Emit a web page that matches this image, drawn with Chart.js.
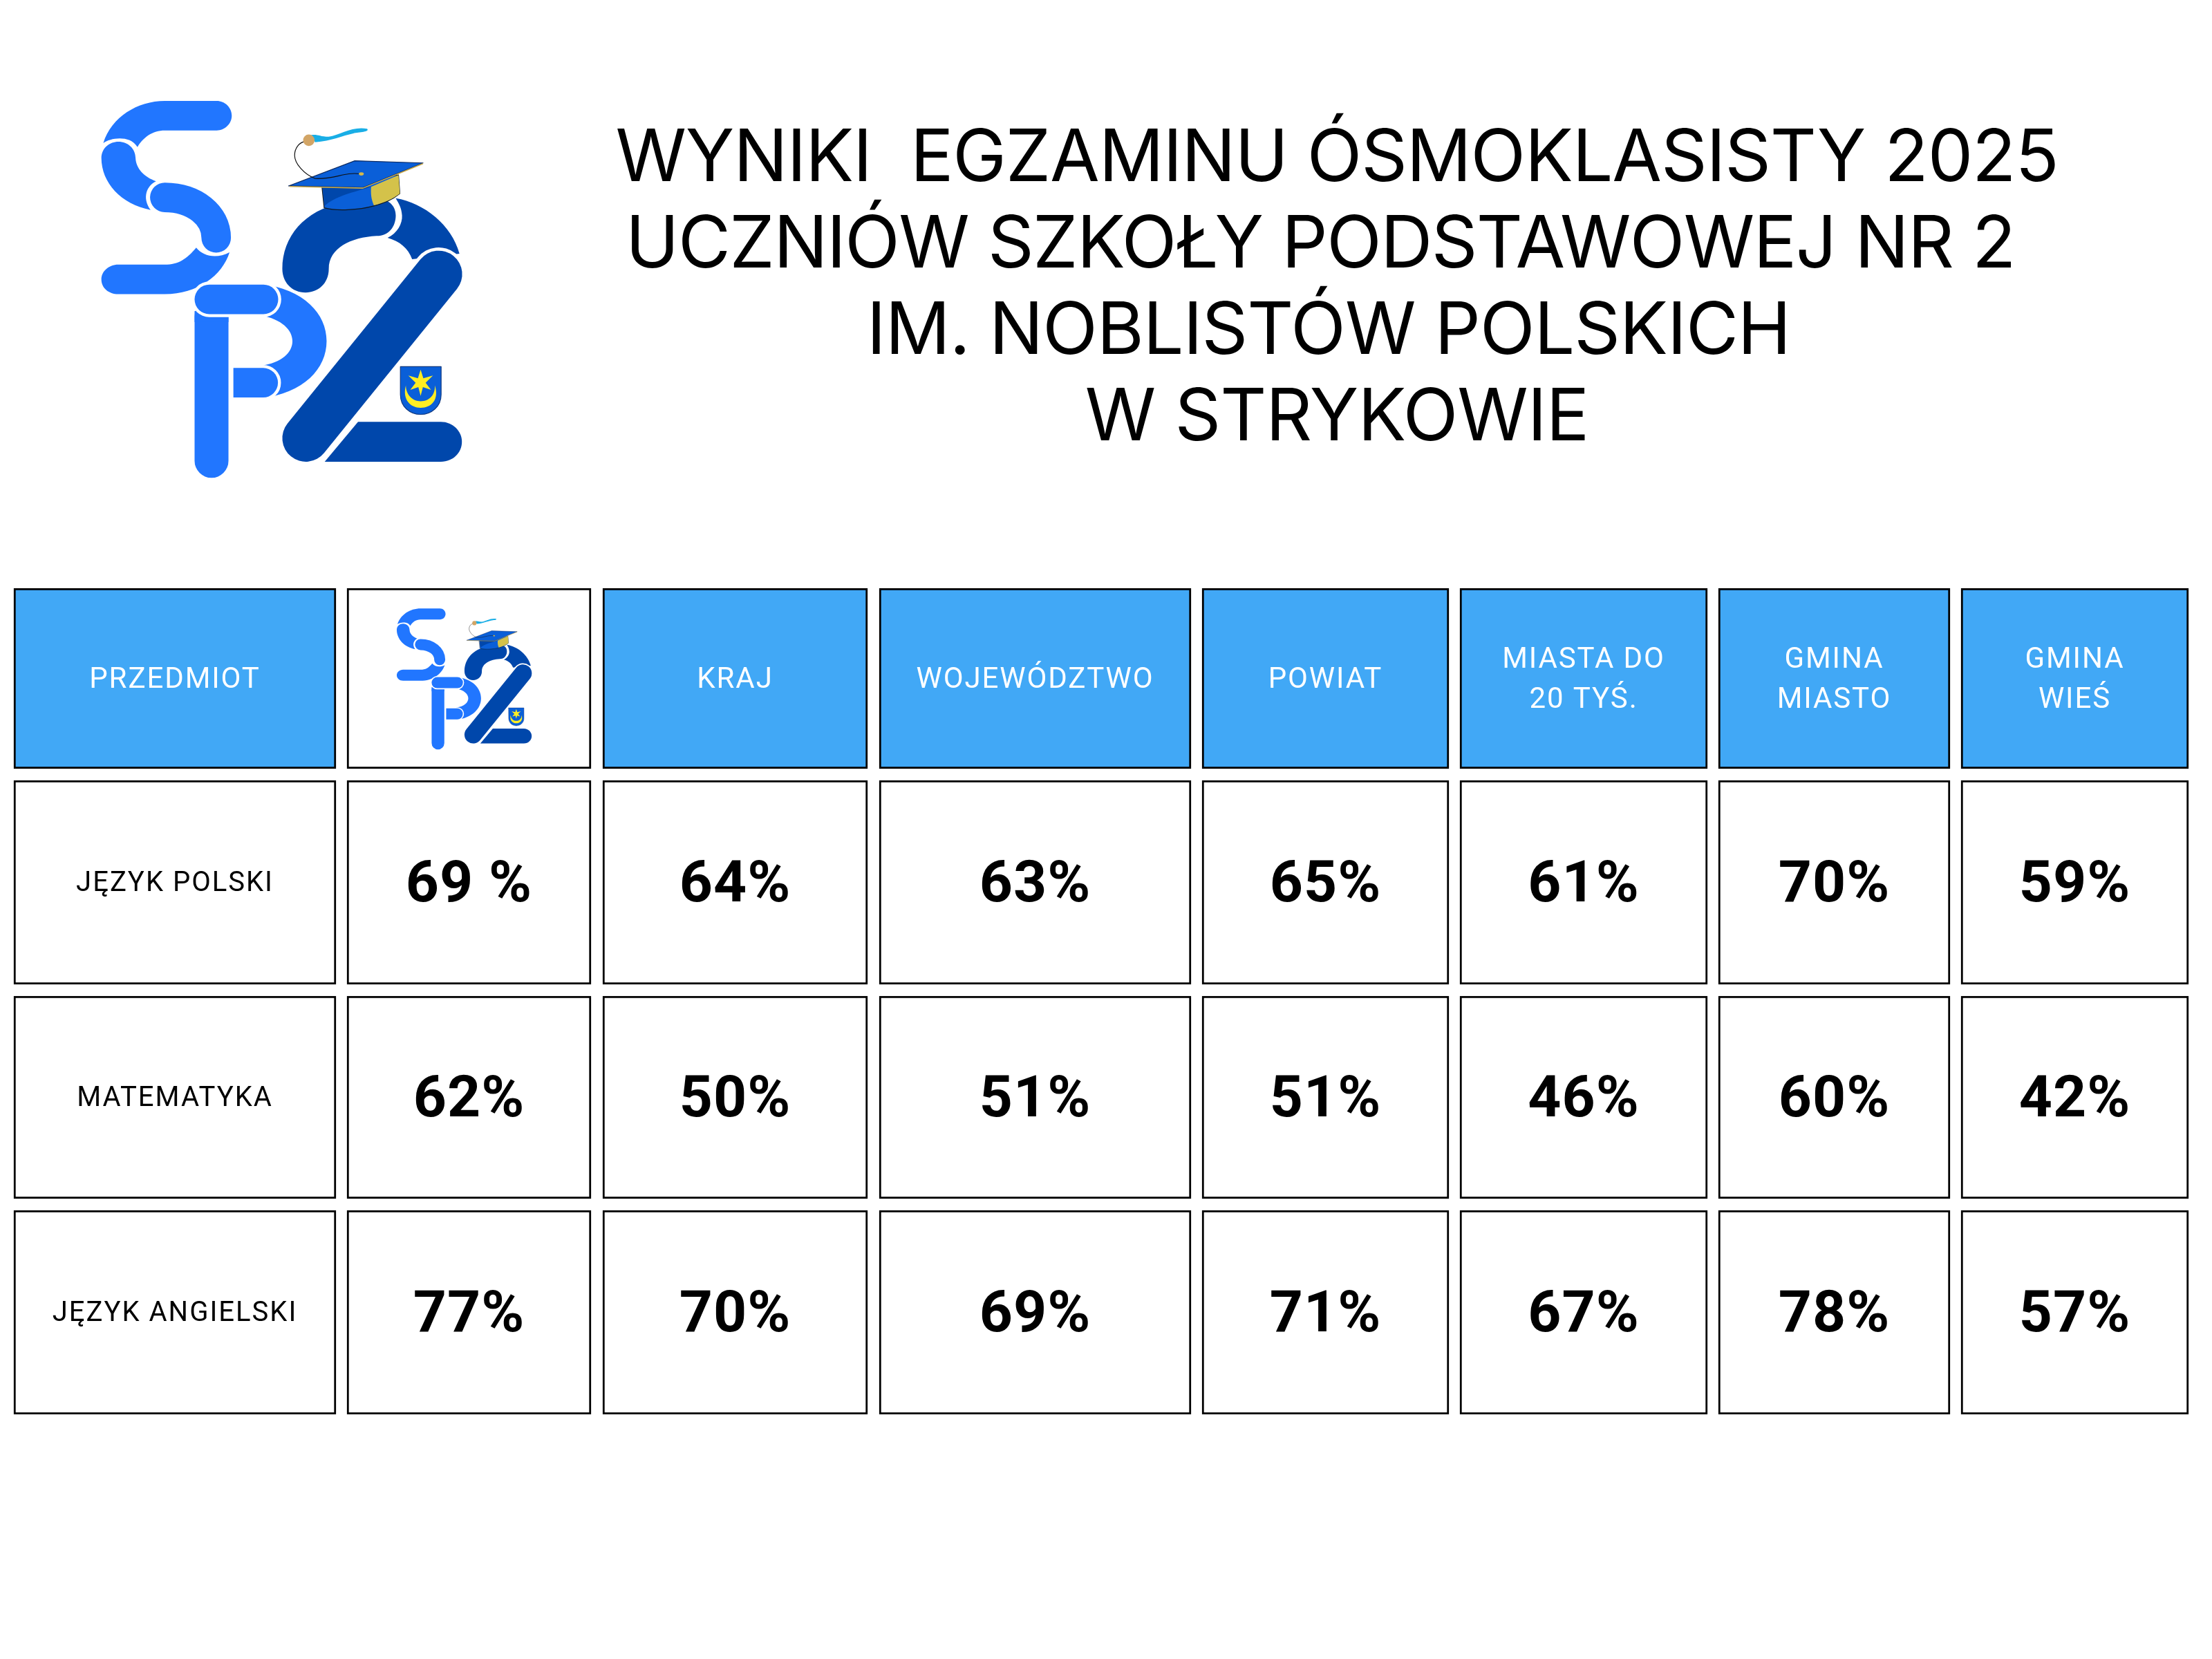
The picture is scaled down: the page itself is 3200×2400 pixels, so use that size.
<!DOCTYPE html>
<html lang="pl">
<head>
<meta charset="utf-8">
<title>Wyniki egzaminu ósmoklasisty 2025</title>
<script src="https://cdn.jsdelivr.net/npm/chart.js@4"></script>
<style>
  html, body { margin: 0; padding: 0; background: #fff; }
  canvas { display: block; }
</style>
</head>
<body>
<canvas id="tabela" width="3200" height="2400"></canvas>
<script>
// Dane
const tytul = [
  'WYNIKI  EGZAMINU ÓSMOKLASISTY 2025',
  'UCZNIÓW SZKOŁY PODSTAWOWEJ NR 2',
  'IM. NOBLISTÓW POLSKICH',
  'W STRYKOWIE'
];
const kolumny = [
  ['PRZEDMIOT'], [], ['KRAJ'], ['WOJEWÓDZTWO'], ['POWIAT'],
  ['MIASTA DO', '20 TYŚ.'], ['GMINA', 'MIASTO'], ['GMINA', 'WIEŚ']
];
const przedmioty = ['JĘZYK POLSKI', 'MATEMATYKA', 'JĘZYK ANGIELSKI'];
const jezykPolski = [69, 64, 63, 65, 61, 70, 59];
const matematyka = [62, 50, 51, 51, 46, 60, 42];
const jezykAngielski = [77, 70, 69, 71, 67, 78, 57];

// Układ tabeli (osobno od danych)
const krawedzieKolumn = [[20, 486], [502, 855], [872, 1255], [1272, 1723], [1739, 2096], [2112, 2470], [2486, 2821], [2837, 3166]];
const krawedzieWierszy = [[851, 1112], [1129, 1424], [1441, 1734], [1751, 2046]];
const NIEBIESKI = '#41a8f6';

const wyniki = [jezykPolski, matematyka, jezykAngielski];

const datasets = kolumny.map((k, c) => ({
  data: krawedzieWierszy.map(w => ({ x: (krawedzieKolumn[c][0] + krawedzieKolumn[c][1]) / 2, y: w })),
  barThickness: krawedzieKolumn[c][1] - krawedzieKolumn[c][0],
  grouped: false,
  backgroundColor: krawedzieWierszy.map((w, r) => (r === 0 && c !== 1) ? NIEBIESKI : '#ffffff'),
  borderColor: '#000000',
  borderWidth: 3,
  borderSkipped: false
}));

function ksztalt(ctx, kolor, rysuj) {
  ctx.beginPath();
  rysuj(ctx);
  ctx.fillStyle = kolor;
  ctx.fill();
}

function kreska(ctx, kolor, szer, rysuj, obwodka) {
  ctx.lineCap = 'round';
  ctx.lineJoin = 'round';
  if (obwodka) {
    ctx.beginPath();
    rysuj(ctx);
    ctx.strokeStyle = '#ffffff';
    ctx.lineWidth = szer + obwodka;
    ctx.stroke();
  }
  ctx.beginPath();
  rysuj(ctx);
  ctx.strokeStyle = kolor;
  ctx.lineWidth = szer;
  ctx.stroke();
}

// Logo szkoły
function logo(ctx, tx, ty, s) {
  const JASNY = '#2176ff', CIEMNY = '#0047ab';
  ctx.save();
  ctx.translate(tx, ty);
  ctx.scale(s, s);

  // S
  ksztalt(ctx, JASNY, c => {
    c.moveTo(350, 91); c.lineTo(540, 91); c.bezierCurveTo(570, 91, 595, 115, 595, 145); c.bezierCurveTo(595, 175, 570, 199, 540, 199);
    c.lineTo(350, 199); c.bezierCurveTo(305, 199, 270, 225, 250, 260); c.bezierCurveTo(235, 235, 210, 228, 185, 228);
    c.bezierCurveTo(160, 228, 140, 235, 125, 245); c.bezierCurveTo(155, 150, 250, 91, 350, 91); c.closePath();
  });
  ksztalt(ctx, JASNY, c => {
    c.moveTo(118, 300); c.bezierCurveTo(118, 262, 150, 240, 180, 240); c.bezierCurveTo(215, 240, 243, 265, 243, 300);
    c.bezierCurveTo(245, 340, 275, 370, 318, 385); c.bezierCurveTo(285, 400, 265, 445, 298, 490); c.bezierCurveTo(190, 470, 118, 390, 118, 300); c.closePath();
  });
  ksztalt(ctx, JASNY, c => {
    c.moveTo(465, 628); c.bezierCurveTo(430, 670, 400, 690, 350, 690); c.lineTo(180, 690); c.bezierCurveTo(145, 690, 118, 715, 118, 744);
    c.bezierCurveTo(118, 775, 145, 798, 180, 798); c.lineTo(350, 798); c.bezierCurveTo(470, 798, 560, 730, 587, 645); c.bezierCurveTo(540, 670, 490, 660, 465, 628); c.closePath();
  });
  kreska(ctx, JASNY, 108, c => { c.moveTo(350, 444); c.bezierCurveTo(460, 445, 538, 510, 538, 592); });

  // P
  ksztalt(ctx, JASNY, c => {
    c.moveTo(700, 760); c.bezierCurveTo(860, 780, 942, 870, 942, 970); c.bezierCurveTo(942, 1070, 860, 1160, 700, 1180);
    c.lineTo(700, 1060); c.bezierCurveTo(780, 1050, 817, 1010, 817, 970); c.bezierCurveTo(817, 930, 780, 890, 700, 875); c.closePath();
  });
  kreska(ctx, JASNY, 124, c => { c.moveTo(521, 880); c.lineTo(521, 1408); });
  ctx.fillStyle = JASNY;
  ctx.fillRect(459, 860, 124, 40);
  kreska(ctx, JASNY, 108, c => { c.moveTo(513, 817); c.lineTo(711, 817); }, 22);
  ctx.beginPath();
  ctx.moveTo(601, 1068); ctx.lineTo(710, 1068); ctx.arc(710, 1122, 54, -Math.PI / 2, Math.PI / 2); ctx.lineTo(601, 1176); ctx.closePath();
  ctx.strokeStyle = '#ffffff'; ctx.lineWidth = 22; ctx.stroke();
  ctx.fillStyle = JASNY; ctx.fill();

  // 2
  ksztalt(ctx, CIEMNY, c => {
    c.moveTo(1195, 447); c.bezierCurveTo(1300, 465, 1400, 545, 1428, 650); c.lineTo(1255, 670);
    c.bezierCurveTo(1240, 630, 1210, 605, 1165, 592); c.bezierCurveTo(1200, 575, 1220, 540, 1218, 510); c.bezierCurveTo(1216, 480, 1205, 465, 1195, 447); c.closePath();
  });
  ksztalt(ctx, CIEMNY, c => {
    c.moveTo(780, 705); c.bezierCurveTo(780, 590, 860, 490, 1000, 465); c.lineTo(1130, 450);
    c.bezierCurveTo(1175, 450, 1195, 480, 1195, 510); c.bezierCurveTo(1195, 550, 1170, 585, 1125, 585);
    c.bezierCurveTo(1030, 590, 950, 630, 950, 705); c.bezierCurveTo(950, 760, 910, 792, 865, 792); c.bezierCurveTo(815, 792, 780, 755, 780, 705); c.closePath();
  });
  ksztalt(ctx, CIEMNY, c => {
    c.moveTo(1057, 1265); c.lineTo(1360, 1265); c.bezierCurveTo(1405, 1265, 1437, 1300, 1437, 1338); c.bezierCurveTo(1437, 1378, 1405, 1411, 1360, 1411);
    c.lineTo(935, 1411); c.closePath();
  });
  kreska(ctx, CIEMNY, 172, c => { c.moveTo(1352, 725); c.lineTo(866, 1325); }, 24);

  // herb
  ksztalt(ctx, '#0a5fd8', c => {
    c.moveTo(1212, 1063); c.lineTo(1361, 1063); c.lineTo(1361, 1165); c.bezierCurveTo(1361, 1210, 1325, 1238, 1286, 1238); c.bezierCurveTo(1247, 1238, 1212, 1210, 1212, 1165); c.closePath();
  });
  ctx.strokeStyle = '#123a80'; ctx.lineWidth = 3; ctx.stroke();
  ksztalt(ctx, '#ffee22', c => {
    const rog = [[0, -48], [45, -26], [38, 26], [0, 48], [-38, 26], [-45, -26]];
    rog.forEach((p, i) => {
      const n = rog[(i + 1) % 6];
      if (i === 0) c.moveTo(1286 + p[0], 1122 + p[1]);
      c.lineTo(1286 + (p[0] + n[0]) * 0.22, 1122 + (p[1] + n[1]) * 0.22);
      c.lineTo(1286 + n[0], 1122 + n[1]);
    });
    c.closePath();
  });
  ksztalt(ctx, '#ffee22', c => {
    c.moveTo(1232, 1132); c.bezierCurveTo(1218, 1185, 1250, 1214, 1286, 1214); c.bezierCurveTo(1325, 1214, 1355, 1185, 1338, 1132);
    c.bezierCurveTo(1340, 1165, 1320, 1190, 1286, 1190); c.bezierCurveTo(1255, 1190, 1232, 1165, 1232, 1132); c.closePath();
  });

  // biret
  ksztalt(ctx, '#0a5fd8', c => {
    c.moveTo(925, 405); c.lineTo(1205, 362); c.lineTo(1210, 430); c.bezierCurveTo(1180, 455, 1150, 465, 1115, 475); c.bezierCurveTo(1060, 490, 980, 495, 933, 482); c.closePath();
  });
  ctx.strokeStyle = '#101820'; ctx.lineWidth = 3; ctx.stroke();
  ksztalt(ctx, '#0047ab', c => { c.moveTo(927, 405); c.lineTo(1105, 405); c.bezierCurveTo(1040, 425, 970, 440, 935, 475); c.closePath(); });
  ksztalt(ctx, '#d4c24a', c => {
    c.moveTo(1105, 405); c.lineTo(1205, 362); c.lineTo(1210, 430); c.bezierCurveTo(1185, 450, 1150, 465, 1115, 473); c.bezierCurveTo(1105, 450, 1103, 430, 1105, 405); c.closePath();
  });
  ksztalt(ctx, '#0a5fd8', c => { c.moveTo(803, 402); c.lineTo(1045, 310); c.lineTo(1295, 318); c.lineTo(1075, 408); c.closePath(); });
  ctx.strokeStyle = '#0d2a60'; ctx.lineWidth = 3; ctx.stroke();
  kreska(ctx, '#c8a94a', 4, c => { c.moveTo(808, 404); c.lineTo(1075, 410); c.lineTo(1293, 321); });
  kreska(ctx, '#101010', 3, c => {
    c.moveTo(1068, 358); c.bezierCurveTo(1000, 350, 980, 378, 900, 375); c.bezierCurveTo(860, 360, 825, 320, 825, 290); c.bezierCurveTo(825, 265, 840, 245, 860, 240);
  });
  ksztalt(ctx, '#d4b84a', c => c.ellipse(1069, 358, 9, 6, 0, 0, Math.PI * 2));
  ksztalt(ctx, '#19aee6', c => {
    c.moveTo(885, 216); c.bezierCurveTo(910, 212, 915, 222, 950, 222); c.bezierCurveTo(990, 215, 1040, 182, 1090, 193); c.bezierCurveTo(1102, 205, 1060, 205, 1040, 210);
    c.bezierCurveTo(1000, 218, 960, 238, 900, 242); c.closePath();
  });
  ksztalt(ctx, '#d2a566', c => c.arc(877, 235, 21, 0, Math.PI * 2));
  ctx.restore();
}

// Teksty i logo rysowane na słupkach tabeli
const teksty = {
  id: 'teksty',
  afterDatasetsDraw(chart) {
    const ctx = chart.ctx;
    ctx.save();
    ctx.textAlign = 'center';
    ctx.textBaseline = 'alphabetic';

    const srodkiTytulu = [1934, 1910, 1922, 1934];
    const linie = [262, 387, 512, 637];
    const odstepy = ['-1.15px', '-1.55px', '-1px', '-1px'];
    ctx.fillStyle = '#000000';
    ctx.font = '400 104px Inter';
    tytul.forEach((t, i) => {
      ctx.letterSpacing = odstepy[i];
      ctx.fillText(t, srodkiTytulu[i], linie[i]);
    });

    logo(ctx, 100, 110, 1 / 2.529);

    kolumny.forEach((linieNaglowka, c) => {
      const el = chart.getDatasetMeta(c).data[0].getCenterPoint();
      ctx.fillStyle = '#ffffff';
      ctx.font = '400 42px Roboto';
      ctx.letterSpacing = '1.9px';
      const start = el.y + 15 - (linieNaglowka.length - 1) * 29 - 2;
      linieNaglowka.forEach((t, i) => ctx.fillText(t, el.x, start + i * 58));
    });
    logo(ctx, 556.5, 866.7, 0.148);

    ctx.fillStyle = '#000000';
    przedmioty.forEach((p, r) => {
      const el = chart.getDatasetMeta(0).data[r + 1].getCenterPoint();
      ctx.font = '400 40px Roboto';
      ctx.letterSpacing = '2px';
      ctx.fillText(p, el.x, el.y + 12);
      wyniki[r].forEach((w, i) => {
        const k = chart.getDatasetMeta(i + 1).data[r + 1].getCenterPoint();
        ctx.font = '700 84px Roboto';
        ctx.letterSpacing = '1px';
        const napis = (r === 0 && i === 0) ? w + ' %' : w + '%';
        ctx.fillText(napis, k.x, k.y + 27);
      });
    });
    ctx.restore();
  }
};

new Chart(document.getElementById('tabela'), {
  type: 'bar',
  data: { datasets },
  plugins: [teksty],
  options: {
    responsive: false,
    animation: false,
    devicePixelRatio: 1,
    layout: { padding: 0 },
    plugins: { legend: { display: false }, title: { display: false }, tooltip: { enabled: false } },
    scales: {
      x: { type: 'linear', min: 0, max: 3200, offset: false, display: false },
      y: { type: 'linear', min: 0, max: 2400, reverse: true, display: false }
    }
  }
});
</script>
</body>
</html>
